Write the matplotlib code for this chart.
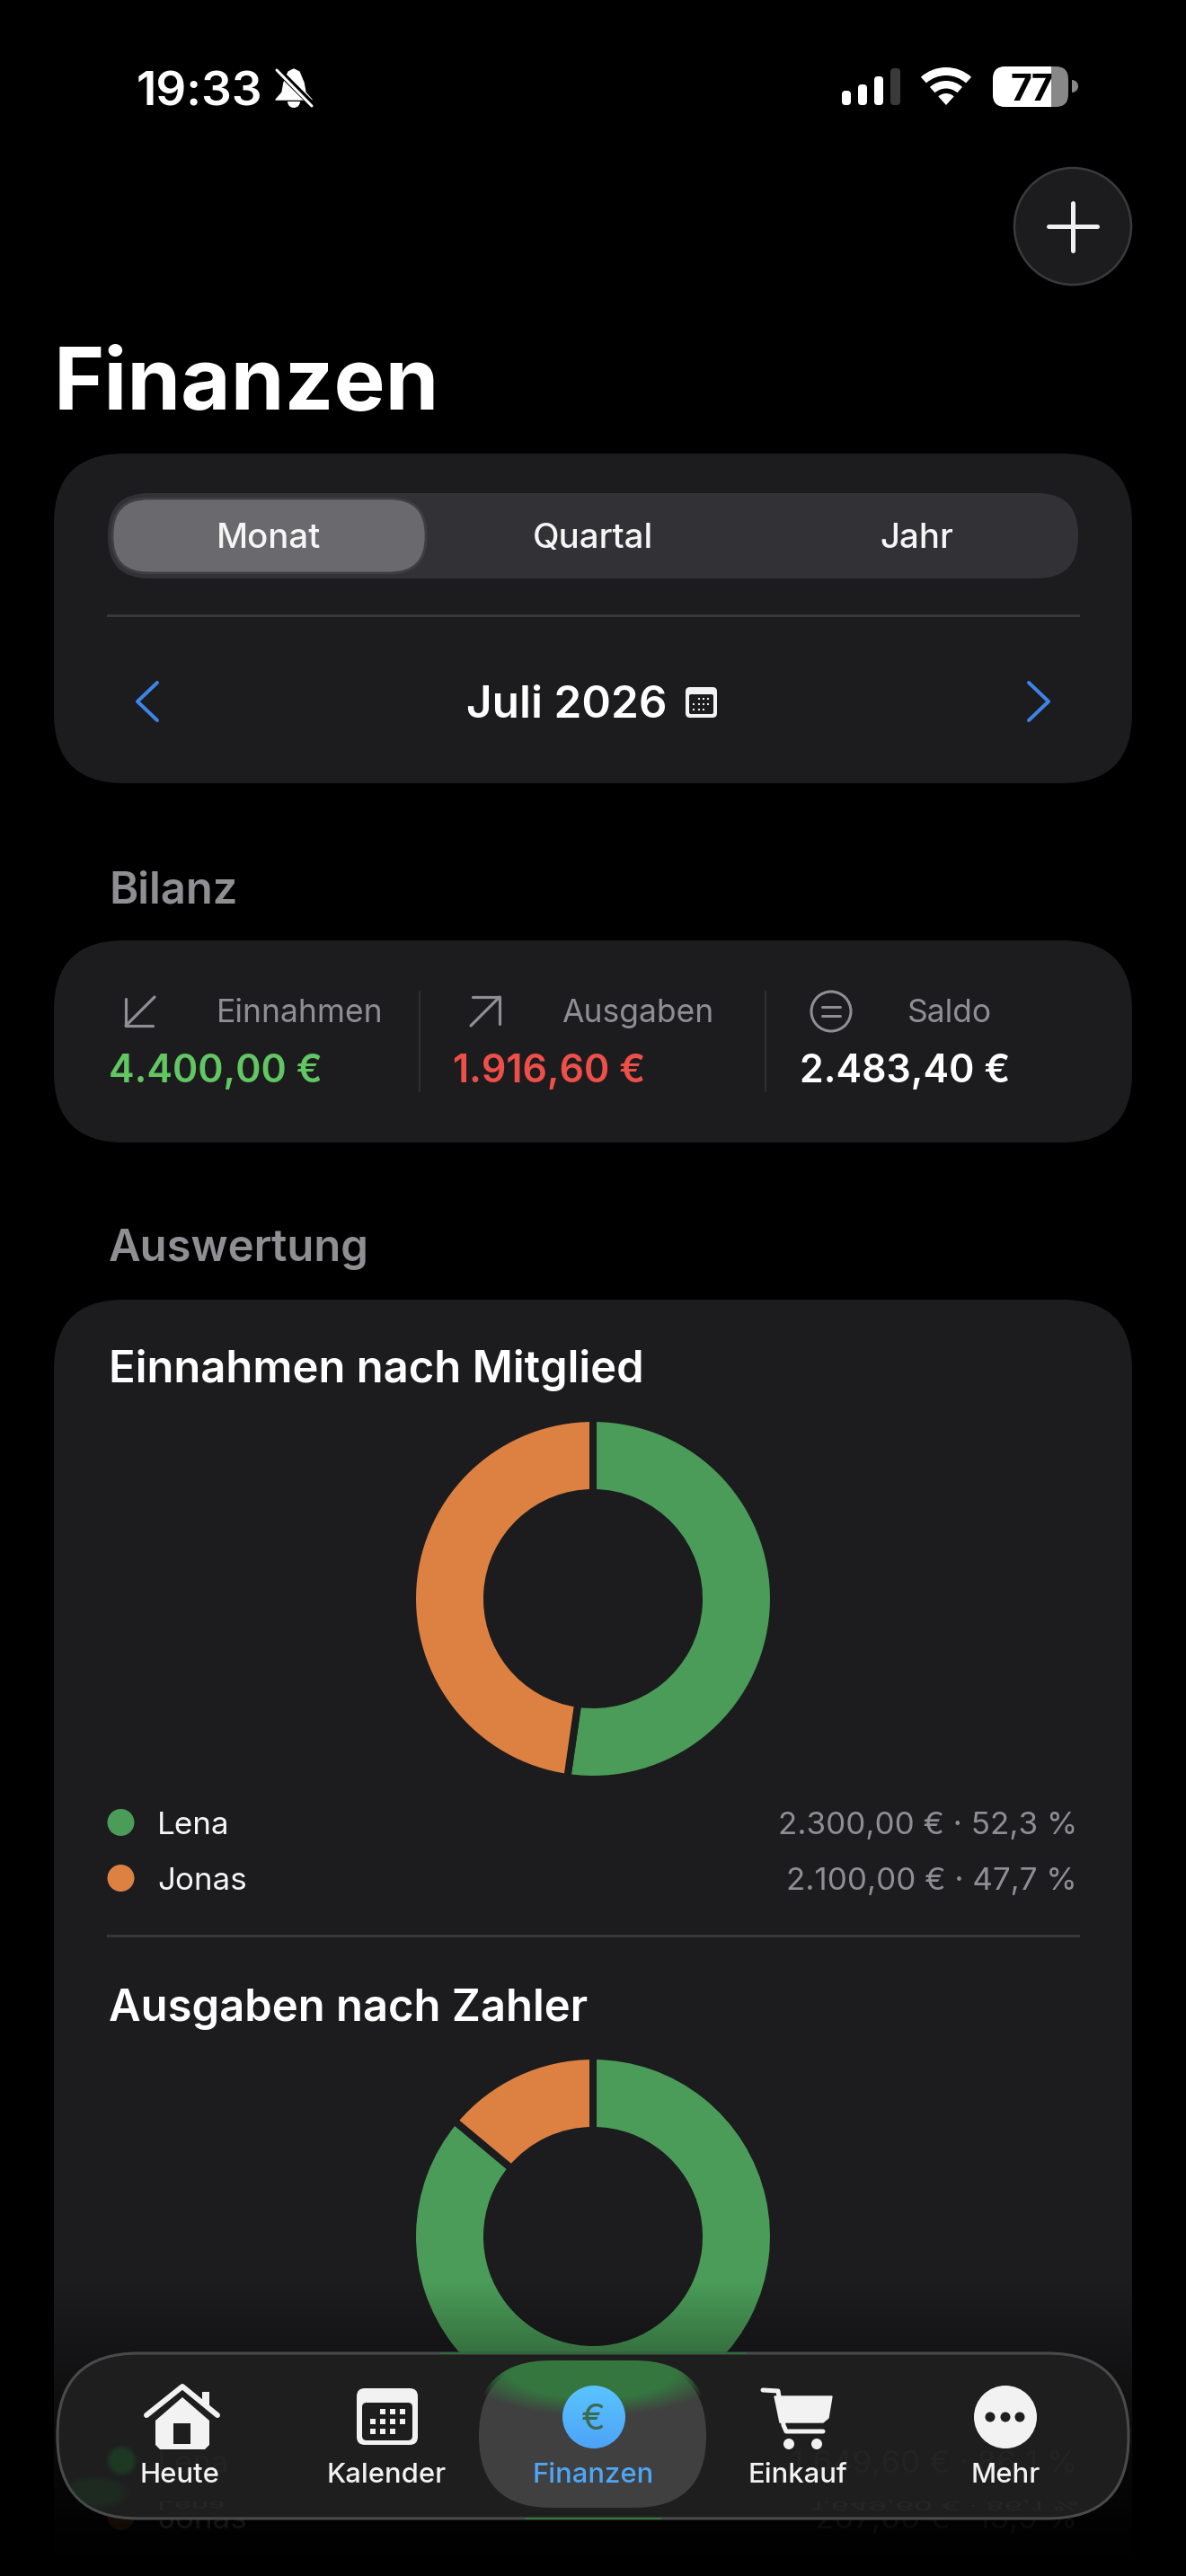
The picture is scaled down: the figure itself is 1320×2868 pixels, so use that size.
import numpy as np
import matplotlib
matplotlib.use("Agg")
import matplotlib.pyplot as plt
from matplotlib.colors import to_rgb
from matplotlib.font_manager import FontProperties
from matplotlib.patches import Circle, FancyBboxPatch, PathPatch, Polygon, Rectangle, Wedge
from matplotlib.text import TextPath
from matplotlib.transforms import Affine2D

plt.rcParams["font.family"] = ["Inter", "DejaVu Sans"]

# ------------------------------------------------------------
# Data
# ------------------------------------------------------------
members = ["Lena", "Jonas"]
income_values = [2300.00, 2100.00]
expense_values = [1649.60, 267.00]
balance_labels = ["Einnahmen", "Ausgaben", "Saldo"]
balance_values = [4400.00, 1916.60, 2483.40]
periods = ["Monat", "Quartal", "Jahr"]
tabs = ["Heute", "Kalender", "Finanzen", "Einkauf", "Mehr"]

# ------------------------------------------------------------
# Colours
# ------------------------------------------------------------
CARD = "#1c1c1e"
GREY = "#8e8e93"
LINE = "#38383a"
GREEN = "#4a9c58"
ORANGE = "#dd8142"
BLUE = "#3c85e6"
TAB_BLUE = "#4fa6f8"
WHITE = "#ffffff"
ICON = "#f2f2f2"
BAR = "#1e1e1f"
member_colors = [GREEN, ORANGE]
balance_colors = ["#62c663", "#ee4f49", WHITE]

W, H = 1320, 2868
fig = plt.figure(figsize=(W / 100, H / 100), dpi=100, facecolor="black")


def pixel_axes(zorder):
    a = fig.add_axes([0, 0, 1, 1], zorder=zorder)
    a.set_xlim(0, W)
    a.set_ylim(H, 0)
    a.set_autoscale_on(False)
    a.axis("off")
    a.patch.set_alpha(0)
    return a


ax = pixel_axes(0)
top = pixel_axes(2)


def euro(v):
    s = f"{v:,.2f}".replace(",", "X").replace(".", ",").replace("X", ".")
    return f"{s} €"


def pct(v, total):
    return f"{v / total * 100:.1f}".replace(".", ",") + " %"


def txt(a, x, y, s, px, color=WHITE, weight="normal", ha="left", **kw):
    return a.text(x, y, s, fontsize=px * 0.72, color=color, fontweight=weight, ha=ha, va="baseline", **kw)


def card(a, x0, y0, x1, y1, r, fc, ec="none", lw=0, **kw):
    p = FancyBboxPatch((x0, y0), x1 - x0, y1 - y0, boxstyle=f"round,pad=0,rounding_size={r}",
                       fc=fc, ec=ec, lw=lw, **kw)
    a.add_patch(p)
    return p


def line(a, xs, ys, color, px, cap="round", **kw):
    a.plot(xs, ys, color=color, lw=px * 0.72, solid_capstyle=cap, solid_joinstyle="round", **kw)


def glow(a, cx, cy, rx, ry, color, alpha, zorder, clip=None):
    # soft elliptical blob, used for the blurred stuff behind the tab bar
    xs = np.linspace(-1.3, 1.3, 120)
    xx, yy = np.meshgrid(xs, xs)
    d = np.sqrt(xx ** 2 + yy ** 2)
    rgba = np.zeros((120, 120, 4))
    rgba[..., :3] = to_rgb(color)
    rgba[..., 3] = alpha * np.clip((1.25 - d) / 0.45, 0, 1)
    im = a.imshow(rgba, extent=(cx - 1.3 * rx, cx + 1.3 * rx, cy + 1.3 * ry, cy - 1.3 * ry),
                  aspect="auto", zorder=zorder, interpolation="bilinear")
    if clip is not None:
        im.set_clip_path(clip)
    return im


# ------------------------------------------------------------
# Status bar
# ------------------------------------------------------------
txt(ax, 152, 117, "19:33", 53, weight="semibold")

bell = Polygon([(327, 77), (333, 80), (338, 92), (340, 103), (347, 111), (307, 111), (314, 103), (316, 92), (321, 80)],
               closed=True, fc=WHITE, ec=WHITE, lw=1, joinstyle="round")
ax.add_patch(bell)
ax.add_patch(Wedge((327, 113), 7, 0, 180, fc=WHITE))
line(ax, [303, 351], [72, 120], "black", 7, cap="butt")
line(ax, [308, 347], [78, 118], WHITE, 3)

for x0, x1, y0, c in [(937, 947, 101, WHITE), (955, 965, 94, WHITE), (973, 983, 85, WHITE), (991, 1002, 76, "#3a3a3a")]:
    card(ax, x0, y0, x1, 117, 4, c)

for r, w in [(42, 9), (27, 8.5), (13, 13)]:
    ax.add_patch(Wedge((1053, 117), r, 228, 312, width=w, fc=WHITE))

batt = card(ax, 1105, 74, 1189, 119, 14, "#888888")
white_part = Rectangle((1105, 74), 65, 45, fc=WHITE)
ax.add_patch(white_part)
white_part.set_clip_path(batt)
ax.add_patch(Wedge((1193, 96), 7, -90, 90, fc="#888888"))
txt(ax, 1148, 112, "77", 41, color="black", weight="bold", ha="center")

# ------------------------------------------------------------
# Header
# ------------------------------------------------------------
ax.add_patch(Circle((1194, 252), 65, fc=CARD, ec="#3a3a3c", lw=1.8))
line(ax, [1167, 1221], [252, 252], "#f0f0f0", 5)
line(ax, [1194, 1194], [226, 279], "#f0f0f0", 5)

txt(ax, 60, 456, "Finanzen", 96, weight="bold")

# ------------------------------------------------------------
# Period card
# ------------------------------------------------------------
card(ax, 60, 505, 1260, 872, 78, CARD)
card(ax, 120, 549, 1200, 644, 46, "#323236")
card(ax, 125, 555, 474, 638, 40, "#69696e", ec="#3f3f43", lw=2)
for label, x in zip(periods, [299, 660, 1020]):
    txt(ax, x, 610, label, 38.5, weight="medium", ha="center", color="#f5f5f5")
ax.plot([120, 1200], [685, 685], color=LINE, lw=2.2)

line(ax, [175, 153, 175], [760, 781, 802], BLUE, 4)
line(ax, [1145, 1167, 1145], [760, 781, 802], BLUE, 4)
txt(ax, 519, 799, "Juli 2026", 49.5, weight="semibold")
card(ax, 763, 765, 798, 799, 5, ICON)
card(ax, 767, 773, 794, 795, 2, "#1c1c1e")
for yy, xs in [(778, [778, 783, 788]), (784, [772, 778, 783, 788]), (790, [772, 778, 783])]:
    ax.scatter(xs, [yy] * len(xs), s=3, color=ICON, marker="s", lw=0)

# ------------------------------------------------------------
# Bilanz
# ------------------------------------------------------------
txt(ax, 121, 1005, "Bilanz", 49, color=GREY, weight="semibold")
card(ax, 60, 1047, 1260, 1272, 78, CARD)

label_x = [241, 625, 1010]
value_x = [121, 504, 890]
for lab, lx, vx, val, col in zip(balance_labels, label_x, value_x, balance_values, balance_colors):
    txt(ax, lx, 1138, lab, 35.5, color=GREY)
    txt(ax, vx, 1205, euro(val), 43, color=col, weight="semibold")
for x in [467, 852]:
    ax.plot([x, x], [1104, 1215], color="#333335", lw=1.2)

line(ax, [172, 140], [1110, 1142], GREY, 3.2)
line(ax, [140, 140, 170], [1112, 1142, 1142], GREY, 3.2)
line(ax, [524, 556], [1142, 1110], GREY, 3.2)
line(ax, [526, 556, 556], [1110, 1110, 1140], GREY, 3.2)
ax.add_patch(Circle((925, 1126), 22, fc="none", ec=GREY, lw=2.2))
line(ax, [915, 935], [1121, 1121], GREY, 3)
line(ax, [915, 935], [1131, 1131], GREY, 3)

# ------------------------------------------------------------
# Auswertung
# ------------------------------------------------------------
txt(ax, 121, 1404, "Auswertung", 49, color=GREY, weight="semibold")
card(ax, 60, 1447, 1260, 3100, 78, CARD)


def draw_donut(cy, values):
    box = 206
    d = fig.add_axes([(660 - box) / W, 1 - (cy + box) / H, 2 * box / W, 2 * box / H], zorder=1)
    d.pie(values, colors=member_colors, startangle=90, counterclock=False, radius=1,
          wedgeprops=dict(width=0.413, edgecolor=CARD, linewidth=5.8))
    d.set_xlim(-box / 201, box / 201)
    d.set_ylim(-box / 201, box / 201)
    d.patch.set_alpha(0)


def draw_rows(y0, values):
    total = sum(values)
    for i, (name, val, col) in enumerate(zip(members, values, member_colors)):
        y = y0 + i * 62
        ax.add_patch(Circle((134.5, y), 15, fc=col, ec="none"))
        txt(ax, 175, y + 13, name, 35, color="#f5f5f5")
        txt(ax, 1199, y + 13, f"{euro(val)} · {pct(val, total)}", 35, color=GREY, ha="right")


txt(ax, 121, 1539, "Einnahmen nach Mitglied", 49, weight="semibold")
draw_donut(1780, income_values)
draw_rows(2029, income_values)
ax.plot([120, 1200], [2155, 2155], color=LINE, lw=2.2)

txt(ax, 121, 2250, "Ausgaben nach Zahler", 49, weight="semibold")
draw_donut(2490, expense_values)
draw_rows(2740, expense_values)

# ------------------------------------------------------------
# Fade at the bottom of the screen
# ------------------------------------------------------------
fade_y = np.arange(2500, 2869)
fade = np.zeros((len(fade_y), 1, 4))
fade[:, 0, 3] = np.interp(fade_y, [2540, 2619, 2810, 2868], [0, 0.28, 0.92, 1])
top.imshow(fade, extent=(0, W, 2868, 2500), aspect="auto", zorder=1)

# ------------------------------------------------------------
# Tab bar
# ------------------------------------------------------------
bar = card(top, 64, 2620, 1256, 2804, 90, BAR, ec="#4a4a4c", lw=2.2, zorder=2)
line(top, [490, 830], [2620, 2620], "#2f6b3b", 2, zorder=3)
line(top, [585, 735], [2804, 2804], "#2f7a3a", 2, zorder=3)

# content blurred through the glass
glow(top, 135, 2740, 15, 15, "#1d4f27", 0.55, 3, clip=bar)
glow(top, 105, 2775, 34, 16, "#1d4f27", 0.25, 3, clip=bar)
txt(top, 175, 2753, members[0], 35, color="#232324", zorder=3)
txt(top, 1199, 2753, f"{euro(expense_values[0])} · {pct(expense_values[0], sum(expense_values))}", 35,
    color="#232324", ha="right", zorder=3)

# mirrored reflection of the same row along the lower rim
fp = FontProperties(family="Inter")
for s, x, right in [(members[0], 175, False),
                    (f"{euro(expense_values[0])} · {pct(expense_values[0], sum(expense_values))}", 1199, True)]:
    tp = TextPath((0, 0), s, size=33, prop=fp)
    bb = tp.get_extents()
    xoff = x - bb.x1 if right else x
    top.add_patch(PathPatch(tp.transformed(Affine2D().scale(1, 0.42).translate(xoff, 2785)),
                            fc="#262627", ec="none", zorder=3))

pill = card(top, 533, 2632, 786, 2792, 80, "#404040", zorder=4)

# green of the donut, refracted into the top of the pill
pill_clip = card(top, 529, 2628, 790, 2796, 84, "none", zorder=4)
glow(top, 660, 2636, 122, 44, "#35763f", 1.0, 5, clip=pill_clip)

# home
line(top, [163, 203, 242], [2689, 2657, 2689], ICON, 6, zorder=6)
top.add_patch(Rectangle((225, 2663), 8, 16, fc=ICON, zorder=6))
top.add_patch(Polygon([(173, 2695), (203, 2669), (233, 2695), (233, 2722), (228, 2727), (178, 2727), (173, 2722)],
                      closed=True, fc=ICON, zorder=6))
top.add_patch(Rectangle((193, 2698), 19, 23, fc=BAR, zorder=7))

# calendar
card(top, 397, 2659, 465, 2722, 9, ICON, zorder=6)
card(top, 403, 2675, 459, 2717, 5, BAR, zorder=7)
for yy, xs in [(2685, [426, 437, 448]), (2696, [415, 426, 437, 448]), (2707, [415, 426, 437])]:
    top.scatter(xs, [yy] * len(xs), s=24, color=ICON, marker="s", lw=0, zorder=8)

# euro button
circle_clip = Circle((661, 2691), 35, fc="none", ec="none", zorder=6)
top.add_patch(circle_clip)
grad = np.zeros((70, 1, 3))
grad[:, 0] = np.linspace(0, 1, 70)[:, None] * np.array(to_rgb("#4da3f7")) + \
    (1 - np.linspace(0, 1, 70)[:, None]) * np.array(to_rgb("#5ac4ff"))
im = top.imshow(grad, extent=(626, 696, 2726, 2656), aspect="auto", zorder=6)
im.set_clip_path(circle_clip)
txt(top, 660, 2705, "€", 40, color="#3a6a50", ha="center", zorder=7)

# cart
line(top, [849, 866, 872, 875, 916], [2661, 2662, 2700, 2707, 2707], ICON, 5, zorder=6)
top.add_patch(Polygon([(862, 2668), (926, 2668), (922, 2692), (916, 2697), (868, 2697)], closed=True,
                      fc=ICON, ec=ICON, lw=1, zorder=6))
for x in [878, 909]:
    top.add_patch(Circle((x, 2721), 6, fc=ICON, zorder=6))

# more
top.add_patch(Circle((1119, 2691), 35, fc=ICON, zorder=6))
for x in [1102, 1119, 1135]:
    top.add_patch(Circle((x, 2691), 5.5, fc=BAR, zorder=7))

for label, x, col, w in zip(tabs, [200, 430, 660, 888, 1119],
                            [ICON, ICON, TAB_BLUE, ICON, ICON], ["medium"] * 5):
    txt(top, x, 2764, label, 31, color=col, weight=w, ha="center", zorder=8)

fig.savefig("out.png", dpi=100, facecolor="black")
